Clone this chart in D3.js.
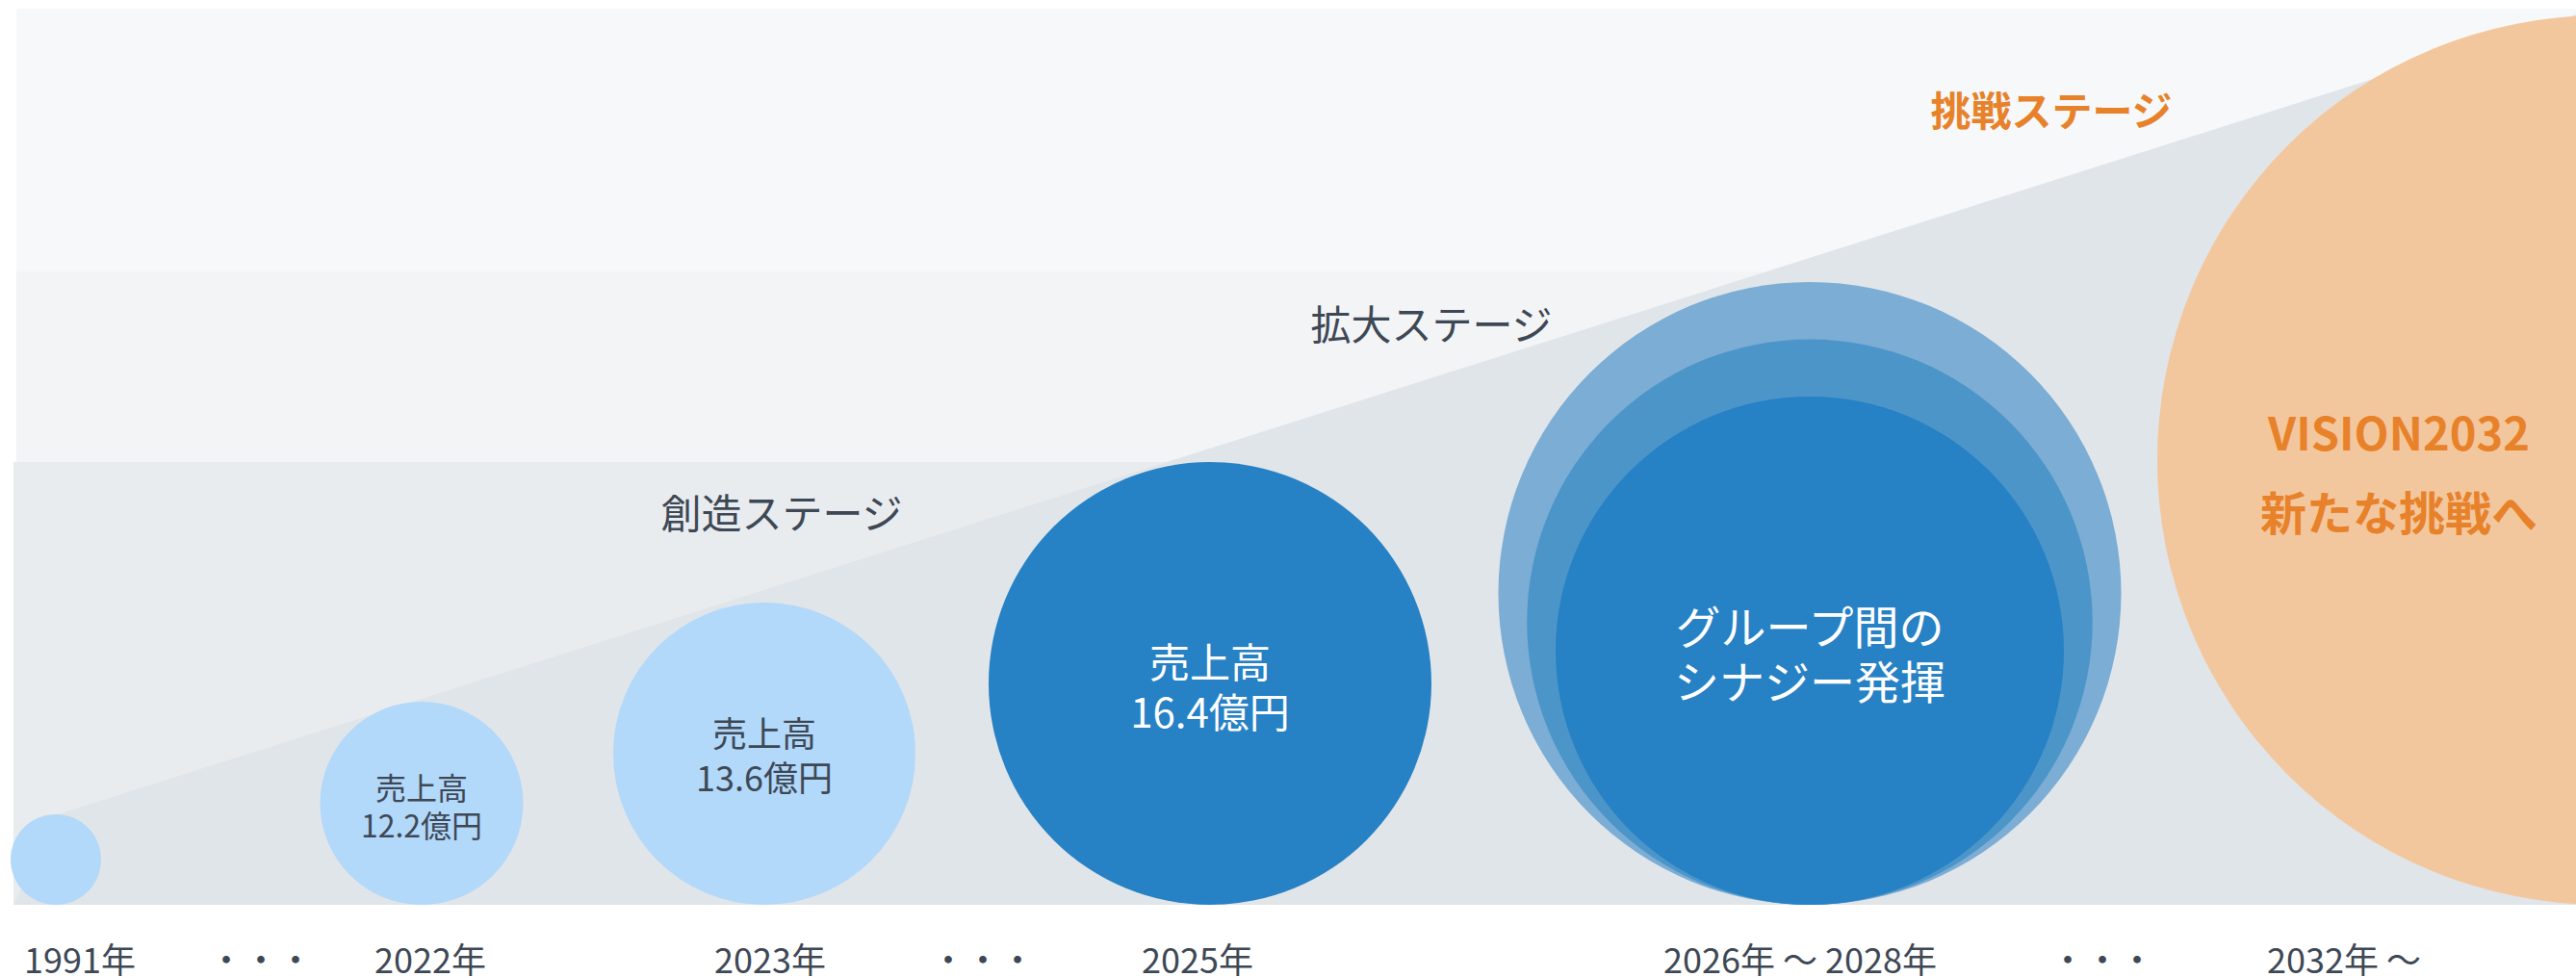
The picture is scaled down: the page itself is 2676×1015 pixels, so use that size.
<!DOCTYPE html>
<html lang="ja">
<head>
<meta charset="utf-8">
<script src="https://cdn.jsdelivr.net/npm/d3@7"></script>
<style>
  html, body { margin: 0; padding: 0; background: #ffffff; }
  svg { display: block; font-family: "Noto Sans CJK JP", "Noto Sans", sans-serif; }
</style>
</head>
<body>
<svg id="chart" width="2676" height="1015"></svg>
<script>
// ---------- DATA ----------
const periods = ["1991年", "2022年", "2023年", "2025年", "2026年 ～ 2028年", "2032年 ～"];
const salesLabel = "売上高";
const salesValues = [null, 12.2, 13.6, 16.4, null, null];   // 億円
const salesUnit = "億円";
const stageNames = ["創造ステージ", "拡大ステージ", "挑戦ステージ"];
const synergyText = ["グループ間の", "シナジー発揮"];
const visionText = ["VISION2032", "新たな挑戦へ"];
const gapMark = "・・・";
const gapAfter = ["1991年", "2023年", "2026年 ～ 2028年"];
const synergyRings = [3, 2, 1];   // three growth rings for 2026-2028

// ---------- LAYOUT ----------
const W = 2676, H = 1015;
const svg = d3.select("#chart");
const textDark = "#3e4855";
const orange = "#e8822a";

// circle centre x and radius per period (infographic layout)
const cx = d3.scaleOrdinal().domain(periods).range([58, 438, 794, 1257, 1880, 2703]);
const rad = d3.scaleOrdinal().domain(periods).range([47, 105.5, 157, 230, 264, 462]);
const labelX = d3.scaleOrdinal().domain(periods).range([83, 447, 800, 1244, 1870, 2435]);
const gapX = d3.scaleOrdinal().domain(gapAfter).range([271, 1021, 2184]);
const ringR = d3.scaleLinear().domain([1, 3]).range([264, 323.5]);
const ringColor = d3.scaleOrdinal().domain(synergyRings).range(["#7badd5", "#4c95c9", "#2681c5"]);
const fillColor = d3.scaleOrdinal().domain(periods)
  .range(["#b2d8fa", "#b2d8fa", "#b2d8fa", "#2681c5", "#2681c5", "#f3c79e"]);
const baseY = 940;

// background bands (stage zones)
const bands = [
  {x0: 17, y0: 9, y1: 282, c: "#f7f8fa"},
  {x0: 17, y0: 282, y1: 480, c: "#f3f4f6"},
  {x0: 14, y0: 480, y1: 940, c: "#e9ecef"}
];
svg.selectAll("rect.band").data(bands).join("rect")
  .attr("class", "band")
  .attr("x", d => d.x0).attr("y", d => d.y0)
  .attr("width", d => W - d.x0).attr("height", d => d.y1 - d.y0)
  .attr("fill", d => d.c);

// growth wedge
const wedge = [[57, 847], [W, 15], [W, baseY], [14, baseY]];
svg.append("path")
  .attr("d", d3.line()(wedge) + "Z")
  .attr("fill", "#e0e5e9");

// stage labels
const stagePos = [[812, 530], [1487, 334], [2131, 112]];
svg.selectAll("text.stage").data(stageNames).join("text")
  .attr("class", "stage")
  .attr("x", (d, i) => stagePos[i][0]).attr("y", (d, i) => stagePos[i][1])
  .attr("text-anchor", "middle").attr("dominant-baseline", "central")
  .attr("font-size", 42)
  .attr("font-weight", (d, i) => i === 2 ? 700 : 400)
  .attr("fill", (d, i) => i === 2 ? orange : textDark)
  .text(d => d);

// synergy rings (2026-2028)
const synP = periods[4];
svg.selectAll("circle.ring").data(synergyRings).join("circle")
  .attr("class", "ring")
  .attr("cx", cx(synP))
  .attr("cy", d => baseY - ringR(d))
  .attr("r", d => ringR(d))
  .attr("fill", d => ringColor(d));

// main circles
const mainPeriods = periods.filter(p => p !== synP);
svg.selectAll("circle.main").data(mainPeriods).join("circle")
  .attr("class", "main")
  .attr("cx", d => cx(d))
  .attr("cy", d => d === periods[5] ? 478 : baseY - rad(d))
  .attr("r", d => rad(d))
  .attr("fill", d => fillColor(d));

// sales labels inside circles
const salesStyle = {"2022年": {fs: 32, y: [817, 856], c: textDark},
                    "2023年": {fs: 36, y: [760, 806], c: textDark},
                    "2025年": {fs: 42, y: [685, 737], c: "#ffffff"}};
periods.forEach((p, i) => {
  if (salesValues[i] == null) return;
  const s = salesStyle[p];
  const lines = [salesLabel, d3.format(".1f")(salesValues[i]) + salesUnit];
  svg.append("g").selectAll("text").data(lines).join("text")
    .attr("x", cx(p)).attr("y", (d, j) => s.y[j])
    .attr("text-anchor", "middle").attr("dominant-baseline", "central")
    .attr("font-size", s.fs).attr("fill", s.c)
    .text(d => d);
});

// synergy text
svg.append("g").selectAll("text").data(synergyText).join("text")
  .attr("x", cx(synP)).attr("y", (d, j) => [648, 705][j])
  .attr("text-anchor", "middle").attr("dominant-baseline", "central")
  .attr("font-size", 47).attr("fill", "#ffffff")
  .text(d => d);

// vision text
svg.append("g").selectAll("text").data(visionText).join("text")
  .attr("x", 2492).attr("y", (d, j) => [447, 530][j])
  .attr("text-anchor", "middle").attr("dominant-baseline", "central")
  .attr("font-size", (d, j) => j === 0 ? 47 : 48)
  .attr("font-weight", 700).attr("fill", orange)
  .text(d => d);

// period axis labels
svg.selectAll("text.period").data(periods).join("text")
  .attr("class", "period")
  .attr("x", d => labelX(d)).attr("y", 995)
  .attr("text-anchor", "middle").attr("dominant-baseline", "central")
  .attr("font-size", 36).attr("fill", textDark)
  .text(d => d);

svg.selectAll("text.gap").data(gapAfter).join("text")
  .attr("class", "gap")
  .attr("x", d => gapX(d)).attr("y", 995)
  .attr("text-anchor", "middle").attr("dominant-baseline", "central")
  .attr("font-size", 36).attr("fill", textDark)
  .text(gapMark);
</script>
</body>
</html>
